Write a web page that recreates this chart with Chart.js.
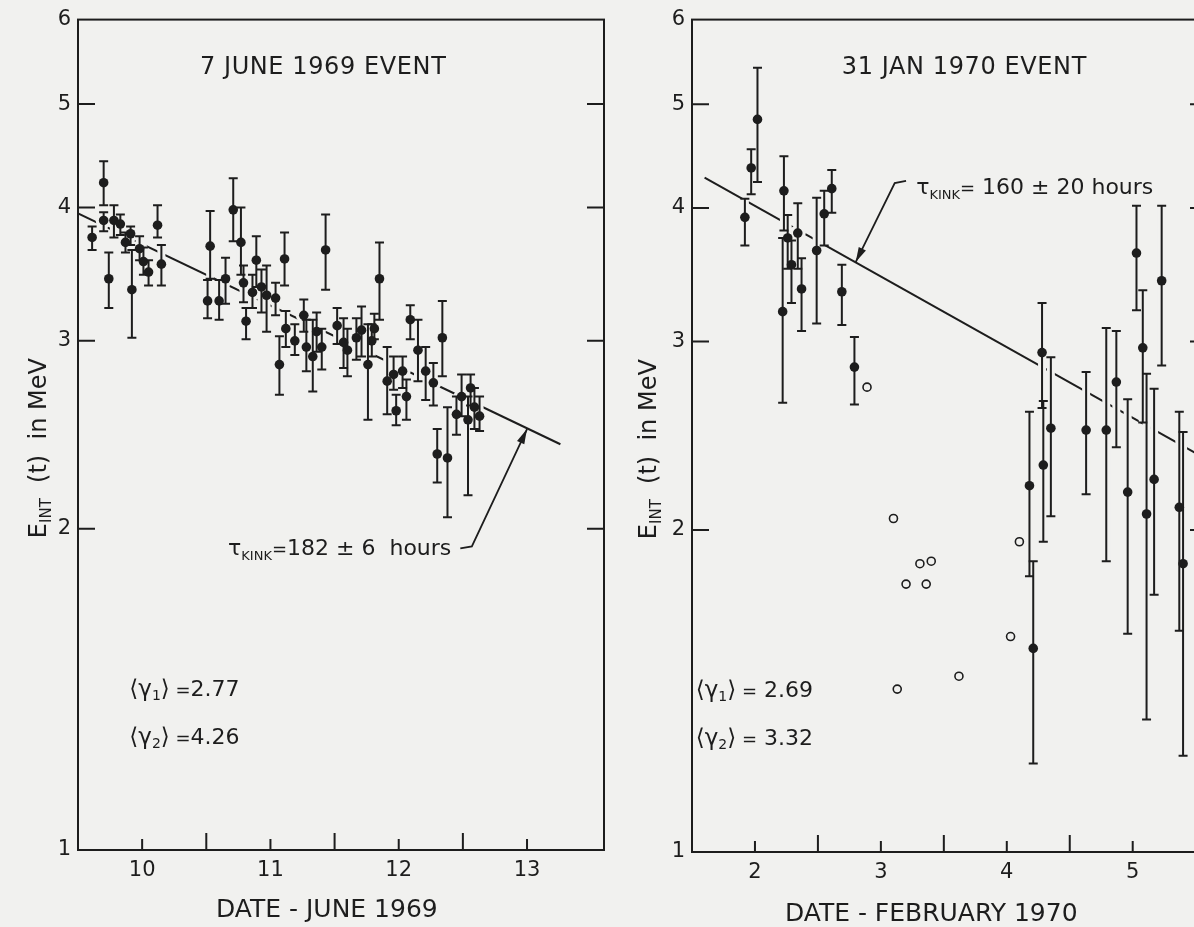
<!DOCTYPE html>
<html>
<head>
<meta charset="utf-8">
<script src="https://cdn.jsdelivr.net/npm/chart.js@4.4.1/dist/chart.umd.min.js"></script>
<style>
  html, body { margin: 0; padding: 0; overflow: hidden; background: #f1f1ef; }
  body { width: 1194px; height: 927px; position: relative; }
  canvas { position: absolute; top: 0; }
  #june { left: 0; }
  #feb { left: 620px; }
</style>
</head>
<body>
<canvas id="june" width="620" height="927"></canvas>
<canvas id="feb" width="600" height="927"></canvas>
<script>
// ---------------- 7 June 1969 event ----------------
const juneDay = [9.61, 9.70, 9.70, 9.74, 9.78, 9.83, 9.87, 9.91, 9.92, 9.98,
  10.01, 10.05, 10.12, 10.15, 10.51, 10.53, 10.60, 10.65, 10.71, 10.77,
  10.79, 10.81, 10.86, 10.89, 10.93, 10.97, 11.04, 11.07, 11.11, 11.12,
  11.19, 11.26, 11.28, 11.33, 11.36, 11.40, 11.43, 11.52, 11.57, 11.60,
  11.67, 11.71, 11.76, 11.79, 11.81, 11.85, 11.91, 11.96, 11.98, 12.03,
  12.06, 12.09, 12.15, 12.21, 12.27, 12.34, 12.30, 12.38, 12.45, 12.49,
  12.56, 12.54, 12.59, 12.63];
const juneE = [3.75, 4.22, 3.89, 3.43, 3.89, 3.86, 3.71, 3.78, 3.35, 3.66,
  3.56, 3.48, 3.85, 3.54, 3.27, 3.68, 3.27, 3.43, 3.98, 3.71,
  3.40, 3.13, 3.33, 3.57, 3.37, 3.31, 3.29, 2.85, 3.58, 3.08,
  3.00, 3.17, 2.96, 2.90, 3.06, 2.96, 3.65, 3.10, 2.99, 2.94,
  3.02, 3.07, 2.85, 3.00, 3.08, 3.43, 2.75, 2.79, 2.58, 2.81,
  2.66, 3.14, 2.94, 2.81, 2.74, 3.02, 2.35, 2.33, 2.56, 2.66,
  2.71, 2.53, 2.60, 2.55];
const juneLo = [3.65, 4.02, 3.80, 3.22, 3.75, 3.77, 3.63, 3.69, 3.02, 3.57,
  3.46, 3.38, 3.75, 3.38, 3.15, 3.43, 3.14, 3.25, 3.72, 3.46,
  3.26, 3.01, 3.22, 3.37, 3.19, 3.06, 3.17, 2.67, 3.38, 2.96,
  2.91, 3.06, 2.81, 2.69, 2.93, 2.82, 3.35, 2.98, 2.83, 2.78,
  2.88, 2.90, 2.53, 2.90, 3.01, 3.14, 2.56, 2.70, 2.50, 2.71,
  2.53, 3.01, 2.75, 2.64, 2.61, 2.78, 2.21, 2.05, 2.45, 2.55,
  2.61, 2.15, 2.48, 2.47];
const juneHi = [3.84, 4.42, 3.96, 3.63, 4.02, 3.94, 3.79, 3.84, 3.65, 3.76,
  3.67, 3.57, 4.02, 3.69, 3.42, 3.97, 3.42, 3.59, 4.26, 4.00,
  3.53, 3.22, 3.46, 3.76, 3.50, 3.53, 3.40, 3.03, 3.79, 3.20,
  3.11, 3.28, 3.14, 3.14, 3.19, 3.08, 3.94, 3.22, 3.15, 3.08,
  3.15, 3.23, 3.11, 3.11, 3.18, 3.71, 2.96, 2.90, 2.67, 2.90,
  2.76, 3.24, 3.14, 2.96, 2.86, 3.27, 2.48, 2.60, 2.66, 2.79,
  2.79, 2.66, 2.71, 2.66];
const juneFitDay = [9.5, 13.26];
const juneFitE = [3.95, 2.40];
const juneDayTicks = [10, 11, 12, 13];
const juneHalfTicks = [10.5, 11.5, 12.5];

// ---------------- 31 Jan 1970 event ----------------
const febDay = [1.92, 1.97, 2.02, 2.23, 2.26, 2.29, 2.22, 2.34, 2.37, 2.49,
  2.55, 2.61, 2.69, 2.79, 4.18, 4.21, 4.28, 4.29, 4.35, 4.63,
  4.79, 4.87, 4.96, 5.03, 5.08, 5.11, 5.17, 5.23, 5.37, 5.40];
const febE = [3.92, 4.36, 4.84, 4.15, 3.75, 3.54, 3.20, 3.79, 3.36, 3.65,
  3.95, 4.17, 3.34, 2.84, 2.20, 1.55, 2.93, 2.30, 2.49, 2.48,
  2.48, 2.75, 2.17, 3.63, 2.96, 2.07, 2.23, 3.42, 2.10, 1.86];
const febLo = [3.69, 4.12, 4.23, 3.81, 3.51, 3.26, 2.63, 3.51, 3.07, 3.12,
  3.69, 3.96, 3.11, 2.62, 1.81, 1.21, 2.60, 1.95, 2.06, 2.16,
  1.87, 2.39, 1.60, 3.21, 2.52, 1.33, 1.74, 2.85, 1.61, 1.23];
const febHi = [4.08, 4.54, 5.41, 4.47, 3.94, 3.73, 3.75, 4.04, 3.59, 4.09,
  4.15, 4.34, 3.54, 3.03, 2.58, 1.87, 3.26, 2.64, 2.90, 2.81,
  3.09, 3.07, 2.65, 4.02, 3.35, 2.80, 2.71, 4.02, 2.58, 2.47];
const febOpenDay = [2.89, 3.10, 3.13, 3.20, 3.31, 3.36, 3.40, 3.62, 4.03, 4.10];
const febOpenE = [2.72, 2.05, 1.42, 1.78, 1.86, 1.78, 1.87, 1.46, 1.59, 1.95];
const febFitDay = [1.60, 5.50];
const febFitE = [4.27, 2.36];
const febDayTicks = [2, 3, 4, 5];
const febHalfTicks = [2.5, 3.5, 4.5];

const energyTicks = [1, 2, 3, 4, 5, 6];
const frameTicks = [2, 3, 4, 5];

const INK = '#1d1d1d';
const PAPER = '#f1f1ef';
const FONT = '"DejaVu Sans", sans-serif';

// text runs with subscripts: [{t, size, dy}]
function richWidth(ctx, parts) {
  let w = 0;
  for (const p of parts) {
    ctx.font = `${p.size}px ${FONT}`;
    w += ctx.measureText(p.t).width;
  }
  return w;
}
function richText(ctx, parts, x, y) {
  let cx = x;
  for (const p of parts) {
    ctx.font = `${p.size}px ${FONT}`;
    ctx.fillText(p.t, cx, y + (p.dy || 0));
    cx += ctx.measureText(p.t).width;
  }
}

function arrow(ctx, pts) {
  ctx.beginPath();
  ctx.moveTo(pts[0][0], pts[0][1]);
  for (let i = 1; i < pts.length; i++) ctx.lineTo(pts[i][0], pts[i][1]);
  ctx.stroke();
  const [x1, y1] = pts[pts.length - 2];
  const [x2, y2] = pts[pts.length - 1];
  const a = Math.atan2(y2 - y1, x2 - x1);
  const len = 15, half = 4;
  ctx.beginPath();
  ctx.moveTo(x2, y2);
  ctx.lineTo(x2 - len * Math.cos(a) + half * Math.sin(a), y2 - len * Math.sin(a) - half * Math.cos(a));
  ctx.lineTo(x2 - len * Math.cos(a) - half * Math.sin(a), y2 - len * Math.sin(a) + half * Math.cos(a));
  ctx.closePath();
  ctx.fill();
}

const gammaNote = (n, val) => [
  {t: '⟨', size: 23}, {t: 'γ', size: 23}, {t: n, size: 14, dy: 4}, {t: '⟩', size: 23},
  {t: ' =', size: 18}, {t: val, size: 22}
];
const tauNote = (val) => [
  {t: 'τ', size: 22}, {t: 'KINK', size: 13, dy: 5}, {t: '=', size: 18}, {t: val, size: 22}
];
const yTitle = [{t: 'E', size: 24}, {t: 'INT', size: 15, dy: 7}, {t: '  (t)  in MeV', size: 24}];

function makePanel(id, p) {
  const px = (chart, d, e) => [chart.scales.x.getPixelForValue(d), chart.scales.y.getPixelForValue(e)];

  const panel = {
    id: 'panel',
    afterDatasetDraw(chart, args) {
      if (args.index !== 0) return;   // fit line is drawn first; bars go over it
      const {ctx} = chart;
      const y = chart.scales.y;
      ctx.save();
      // clear the fit line around each bar and point
      ctx.strokeStyle = PAPER;
      ctx.fillStyle = PAPER;
      ctx.lineWidth = 8;
      p.day.forEach((d, i) => {
        const [cx, cy] = px(chart, d, p.e[i]);
        ctx.beginPath();
        ctx.moveTo(cx, y.getPixelForValue(p.lo[i]));
        ctx.lineTo(cx, y.getPixelForValue(p.hi[i]));
        ctx.stroke();
        ctx.beginPath();
        ctx.arc(cx, cy, 8, 0, Math.PI * 2);
        ctx.fill();
      });
      (p.openDay || []).forEach((d, i) => {
        const [cx, cy] = px(chart, d, p.openE[i]);
        ctx.beginPath();
        ctx.arc(cx, cy, 7, 0, Math.PI * 2);
        ctx.fill();
      });
      // error bars with caps
      ctx.strokeStyle = INK;
      ctx.lineWidth = 2;
      p.day.forEach((d, i) => {
        const cx = chart.scales.x.getPixelForValue(d);
        const yl = y.getPixelForValue(p.lo[i]);
        const yh = y.getPixelForValue(p.hi[i]);
        ctx.beginPath();
        ctx.moveTo(cx, yl); ctx.lineTo(cx, yh);
        ctx.moveTo(cx - 4.5, yl); ctx.lineTo(cx + 4.5, yl);
        ctx.moveTo(cx - 4.5, yh); ctx.lineTo(cx + 4.5, yh);
        ctx.stroke();
      });
      ctx.restore();
    },
    afterDraw(chart) {
      const {ctx, chartArea: a} = chart;
      const xs = chart.scales.x, ys = chart.scales.y;
      ctx.save();
      ctx.strokeStyle = INK;
      ctx.fillStyle = INK;
      ctx.lineWidth = 2;
      ctx.strokeRect(a.left, a.top, a.right - a.left, a.bottom - a.top);

      // inward ticks
      ctx.beginPath();
      frameTicks.forEach(v => {
        const ty = ys.getPixelForValue(v);
        ctx.moveTo(a.left, ty); ctx.lineTo(a.left + 17, ty);
        ctx.moveTo(a.right, ty); ctx.lineTo(a.right - 17, ty);
      });
      p.dayTicks.forEach(v => {
        const tx = xs.getPixelForValue(v);
        ctx.moveTo(tx, a.bottom); ctx.lineTo(tx, a.bottom - 11);
      });
      p.halfTicks.forEach(v => {
        const tx = xs.getPixelForValue(v);
        ctx.moveTo(tx, a.bottom); ctx.lineTo(tx, a.bottom - 17);
      });
      ctx.stroke();

      // titles
      ctx.textBaseline = 'alphabetic';
      ctx.textAlign = 'left';
      ctx.font = `24px ${FONT}`;
      ctx.letterSpacing = '0.6px';
      const [tx, ty] = px(chart, p.title.day, p.title.e);
      ctx.fillText(p.title.text, tx, ty);
      ctx.letterSpacing = '0px';

      ctx.font = `25px ${FONT}`;
      ctx.textAlign = 'center';
      ctx.fillText(p.xTitle.text, xs.getPixelForValue(p.xTitle.day), a.bottom + p.xTitle.drop);
      ctx.textAlign = 'left';

      // rotated y title
      ctx.save();
      ctx.translate(a.left - p.yTitleGap, ys.getPixelForValue(2.38));
      ctx.rotate(-Math.PI / 2);
      ctx.textBaseline = 'middle';
      richText(ctx, yTitle, -richWidth(ctx, yTitle) / 2, 0);
      ctx.restore();

      // annotations
      p.notes.forEach(n => {
        const [nx, ny] = px(chart, n.day, n.e);
        richText(ctx, n.parts, nx, ny);
      });
      ctx.lineWidth = 1.8;
      arrow(ctx, p.leader.map(([d, e]) => px(chart, d, e)));
      ctx.restore();
    }
  };

  const datasets = [
    {
      data: p.fitDay.map((d, i) => ({x: d, y: p.fitE[i]})),
      showLine: true, borderColor: INK, borderWidth: 2, pointRadius: 0, order: 3
    },
    {
      data: p.day.map((d, i) => ({x: d, y: p.e[i]})),
      pointRadius: 4.8, backgroundColor: INK, borderColor: INK, borderWidth: 0, order: 1
    }
  ];
  if (p.openDay) {
    datasets.push({
      data: p.openDay.map((d, i) => ({x: d, y: p.openE[i]})),
      pointRadius: 4, backgroundColor: 'rgba(0,0,0,0)', borderColor: INK, borderWidth: 1.6, order: 2
    });
  }

  return new Chart(document.getElementById(id), {
    type: 'scatter',
    data: {datasets},
    options: {
      responsive: false,
      animation: false,
      layout: {padding: {top: p.padTop, right: p.padRight, left: 0, bottom: 0}},
      plugins: {legend: {display: false}, tooltip: {enabled: false}},
      scales: {
        x: {
          type: 'linear', min: p.xMin, max: p.xMax,
          grid: {display: false, drawTicks: false},
          border: {display: false},
          afterBuildTicks: s => { s.ticks = p.dayTicks.map(v => ({value: v})); },
          afterFit: s => { s.height = p.xHeight; },
          ticks: {color: INK, font: {family: FONT, size: 21}, padding: 8, callback: v => String(v)}
        },
        y: {
          type: 'logarithmic', min: 1, max: 6,
          grid: {display: false, drawTicks: false},
          border: {display: false},
          afterBuildTicks: s => { s.ticks = energyTicks.map(v => ({value: v})); },
          afterFit: s => { s.width = p.yWidth; },
          ticks: {color: INK, font: {family: FONT, size: 21}, padding: 7, callback: v => String(v)}
        }
      }
    },
    plugins: [panel]
  });
}

makePanel('june', {
  day: juneDay, e: juneE, lo: juneLo, hi: juneHi,
  fitDay: juneFitDay, fitE: juneFitE,
  dayTicks: juneDayTicks, halfTicks: juneHalfTicks,
  xMin: 9.5, xMax: 13.6,
  padTop: 16, padRight: 16, yWidth: 78, xHeight: 77, yTitleGap: 38,
  title: {text: '7 JUNE 1969 EVENT', day: 10.45, e: 5.33},
  xTitle: {text: 'DATE - JUNE 1969', day: 11.44, drop: 67},
  notes: [
    {day: 10.67, e: 1.89, parts: tauNote('182 ± 6  hours')},
    {day: 9.90, e: 1.395, parts: gammaNote('1', '2.77')},
    {day: 9.90, e: 1.258, parts: gammaNote('2', '4.26')}
  ],
  leader: [[12.48, 1.917], [12.57, 1.925], [13.0, 2.48]]
});

makePanel('feb', {
  day: febDay, e: febE, lo: febLo, hi: febHi,
  openDay: febOpenDay, openE: febOpenE,
  fitDay: febFitDay, fitE: febFitE,
  dayTicks: febDayTicks, halfTicks: febHalfTicks,
  xMin: 1.5, xMax: 5.59,
  padTop: 19, padRight: 13, yWidth: 72, xHeight: 75, yTitleGap: 42,
  title: {text: '31 JAN 1970 EVENT', day: 2.69, e: 5.34},
  xTitle: {text: 'DATE - FEBRUARY 1970', day: 3.40, drop: 69},
  notes: [
    {day: 3.28, e: 4.12, parts: tauNote(' 160 ± 20 hours')},
    {day: 1.53, e: 1.396, parts: gammaNote('1', ' 2.69')},
    {day: 1.53, e: 1.259, parts: gammaNote('2', ' 3.32')}
  ],
  leader: [[3.20, 4.24], [3.11, 4.22], [2.80, 3.56]]
});
</script>
</body>
</html>
